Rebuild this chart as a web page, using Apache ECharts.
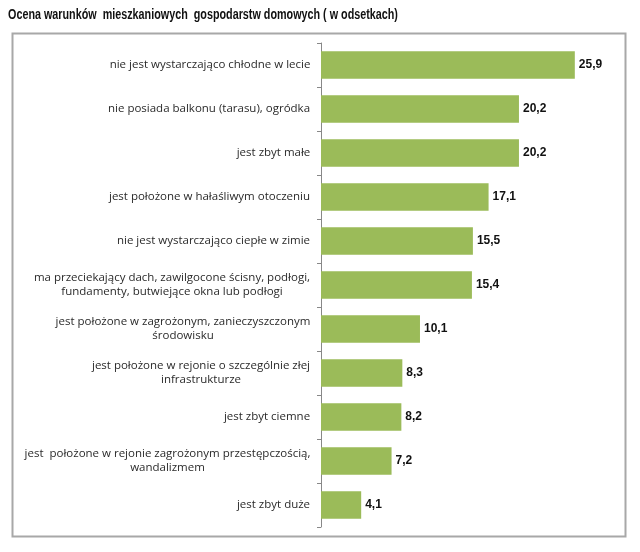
<!DOCTYPE html>
<html><head><meta charset="utf-8">
<script src="https://cdn.jsdelivr.net/npm/echarts@6/dist/echarts.min.js"></script>
<style>html,body{margin:0;padding:0;background:#fff}#c{width:640px;height:552px}</style>
</head><body><div id="c"></div>
<script>
const titleText = 'Ocena warunków  mieszkaniowych  gospodarstw domowych ( w odsetkach)';
const categories = [
  'nie jest wystarczająco chłodne w lecie',
  'nie posiada balkonu (tarasu), ogródka',
  'jest zbyt małe',
  'jest położone w hałaśliwym otoczeniu',
  'nie jest wystarczająco ciepłe w zimie',
  'ma przeciekający dach, zawilgocone ścisny, podłogi,\nfundamenty, butwiejące okna lub podłogi',
  'jest położone w zagrożonym, zanieczyszczonym\nśrodowisku',
  'jest położone w rejonie o szczególnie złej\ninfrastrukturze',
  'jest zbyt ciemne',
  'jest  położone w rejonie zagrożonym przestępczością,\nwandalizmem',
  'jest zbyt duże'
];
const values = [25.9, 20.2, 20.2, 17.1, 15.5, 15.4, 10.1, 8.3, 8.2, 7.2, 4.1];

const labelFont = '11.5px "Open Sans"';
const cv = document.createElement('canvas').getContext('2d');
cv.font = labelFont;
const rich = {};
categories.forEach((c, i) => {
  const w = Math.max(...c.split('\n').map(s => cv.measureText(s).width));
  rich['c' + i] = {width: Math.ceil(w) + 1, align: 'center', fontFamily: 'Open Sans', fontSize: 11.5, color: '#2a2a2a', lineHeight: 14};
});

const chart = echarts.init(document.getElementById('c'), null, {renderer: 'canvas'});
chart.setOption({
  animation: false,
  backgroundColor: '#fff',
  graphic: [{
    type: 'rect', shape: {x: 12.5, y: 33.5, width: 613, height: 503},
    style: {fill: 'none', stroke: '#a8a8a8', lineWidth: 2}, z: -1
  }, {
    type: 'text', x: 8, y: 8, scaleX: 0.77,
    style: {text: titleText, font: 'bold 14px "Liberation Sans", Arial, sans-serif', fill: '#111', textVerticalAlign: 'top'}
  }],
  grid: {left: 321, right: 25, top: 43, bottom: 25, containLabel: false},
  xAxis: {type: 'value', min: 0, max: 30, show: false},
  yAxis: {
    type: 'category', data: categories, inverse: true,
    axisLine: {lineStyle: {color: '#888', width: 1}},
    axisTick: {show: true, length: 4, lineStyle: {color: '#888'}},
    axisLabel: {
      margin: 10, align: 'right',
      formatter: (v, i) => v.split('\n').map(s => '{c' + i + '|' + s + '}').join('\n'),
      rich: rich,
      fontFamily: 'Open Sans', fontSize: 11.5, color: '#2a2a2a', lineHeight: 14
    }
  },
  series: [{
    type: 'bar', data: values, barCategoryGap: '38%',
    itemStyle: {color: '#9BBB59'},
    label: {
      show: true, position: 'right', distance: 4,
      formatter: p => String(p.value).replace('.', ','),
      fontFamily: 'Liberation Sans, Arial, sans-serif', fontSize: 12, fontWeight: 'bold', color: '#111'
    }
  }]
});
</script></body></html>
